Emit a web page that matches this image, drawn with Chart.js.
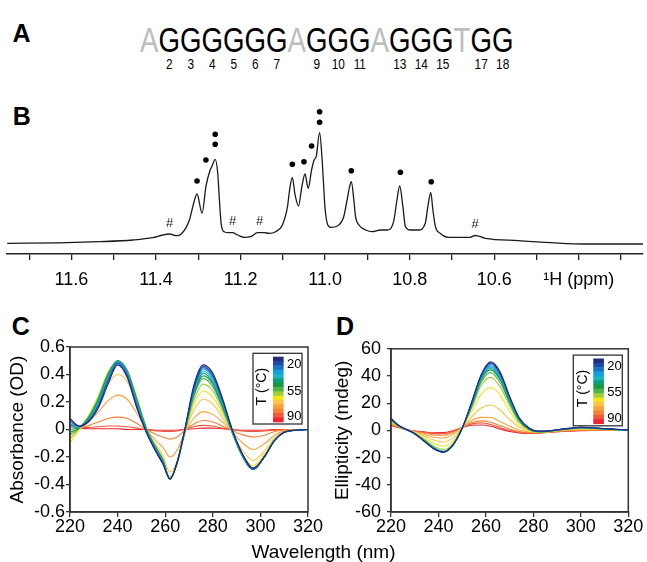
<!DOCTYPE html>
<html><head><meta charset="utf-8">
<script src="https://cdn.jsdelivr.net/npm/chart.js@4.4.1/dist/chart.umd.min.js"></script>
<style>
html,body{margin:0;padding:0;background:#fff;}
body{width:647px;height:562px;position:relative;overflow:hidden;font-family:"Liberation Sans",Arial,sans-serif;}
canvas{position:absolute;}
.lbl{position:absolute;font-weight:bold;font-size:25px;line-height:25px;color:#000;}
#seq{position:absolute;left:140px;top:22.4px;transform:scaleX(0.79);transform-origin:0 0;display:flex;white-space:nowrap;}
#seq .col{position:relative;font-size:35px;line-height:35px;}
#seq .num{position:absolute;left:-12px;right:-12px;top:34px;text-align:center;font-size:15px;line-height:15px;color:#000;}
#wl{position:absolute;left:0;width:647px;top:542px;text-align:center;font-size:19px;line-height:19px;}
</style></head>
<body>
<div class="lbl" style="left:12.5px;top:20.8px">A</div>
<div class="lbl" style="left:12.7px;top:103.8px">B</div>
<div class="lbl" style="left:11.7px;top:313.8px">C</div>
<div class="lbl" style="left:336px;top:313.8px">D</div>
<div id="seq"></div>
<canvas id="cB" width="647" height="205" style="left:0;top:95px"></canvas>
<canvas id="cC" width="330" height="210" style="left:0;top:332px"></canvas>
<canvas id="cD" width="327" height="210" style="left:320px;top:332px"></canvas>
<div id="wl">Wavelength (nm)</div>
<script>
// ---------- Panel A: sequence ----------
const seqLetters = ['A','G','G','G','G','G','G','A','G','G','G','A','G','G','G','T','G','G'];
const seqNumbers = ['','2','3','4','5','6','7','','9','10','11','','13','14','15','','17','18'];
const seqGray = ['A','T'];

// ---------- Panel B: 1H NMR ----------
const nmrPpm = [11.752, 11.612, 11.533, 11.455, 11.408, 11.384, 11.368, 11.352, 11.341, 11.321, 11.313, 11.303, 11.291, 11.282, 11.272, 11.268, 11.260, 11.254, 11.250, 11.246, 11.239, 11.227, 11.219, 11.207, 11.191, 11.176, 11.160, 11.144, 11.132, 11.117, 11.101, 11.089, 11.084, 11.0775, 11.071, 11.063, 11.055, 11.0475, 11.040, 11.032, 11.026, 11.021, 11.013, 11.007, 11.0004, 10.995, 10.987, 10.971, 10.956, 10.948, 10.942, 10.938, 10.932, 10.928, 10.920, 10.904, 10.889, 10.869, 10.853, 10.838, 10.830, 10.8235, 10.816, 10.810, 10.798, 10.779, 10.763, 10.757, 10.750, 10.745, 10.739, 10.728, 10.708, 10.677, 10.657, 10.645, 10.621, 10.543, 10.464, 10.386, 10.248];
const nmrIntensity = [0.7, 1.3, 2.3, 4, 6.3, 9, 10, 8.3, 9.7, 24, 37.3, 50, 30.7, 57.3, 74, 77.3, 84.7, 70.7, 44, 20.7, 12.3, 11.3, 11.3, 9, 6.7, 7.3, 11.3, 11.3, 10.7, 12.3, 19, 37.3, 54, 66.7, 49, 38, 57.3, 70, 55.7, 74, 84, 87.3, 111.3, 84, 37.3, 20.7, 16.7, 18, 27.3, 44, 57.3, 62.3, 44, 27.3, 19, 14, 12.3, 14, 14, 22.3, 44, 58, 37.3, 17.3, 14, 14, 20.7, 37.3, 51.3, 34, 17.3, 10.7, 6.7, 6.7, 6.7, 8.5, 5.7, 3.3, 1.3, 0, 0];
const dotPpm = [11.303, 11.282, 11.260, 11.260, 11.0775, 11.050, 11.032, 11.013, 11.013, 10.938, 10.822, 10.749];
const dotIntensity = [63, 84, 99.7, 109.7, 79.7, 82.3, 98, 121.7, 132.3, 73.3, 71.7, 62.3];
const hashPpm = [11.368, 11.219, 11.155, 10.645];
const hashIntensity = [20.7, 22.3, 22.3, 20];
const nmrTickValues = [11.7, 11.6, 11.5, 11.4, 11.3, 11.2, 11.1, 11.0, 10.9, 10.8, 10.7, 10.6, 10.5, 10.4, 10.3];
const nmrTickLabels = ['', '11.6', '', '11.4', '', '11.2', '', '11.0', '', '10.8', '', '10.6', '', '\u00b9H (ppm)', ''];

// ---------- Panels C & D ----------
const temperatures = [20, 25, 30, 35, 40, 45, 50, 55, 60, 65, 70, 75, 80, 85, 90];
const tempColors = ['#262a7a', '#1f49a8', '#1b74c8', '#14a0dc', '#1ab3c4', '#0c9e74', '#1a9a40', '#4cb548', '#a2cd3a', '#f2e51c', '#fcc44a', '#f9a23c', '#f68236', '#f0583c', '#ec2434'];
const colorbarLabels = ['20', '55', '90'];
const xTicksCD = [220, 240, 260, 280, 300, 320];
const xTickLabelsCD = ['220', '240', '260', '280', '300', '320'];
const yTicksC = [-0.6, -0.4, -0.2, 0, 0.2, 0.4, 0.6];
const yTickLabelsC = ['-0.6', '-0.4', '-0.2', '0', '0.2', '0.4', '0.6'];
const yTicksD = [-60, -40, -20, 0, 20, 40, 60];
const yTickLabelsD = ['-60', '-40', '-20', '0', '20', '40', '60'];

const wlC = [220, 224, 228, 232, 236, 240, 244, 248, 252, 256, 259, 262, 265, 268, 272, 276, 280, 284, 288, 292, 297, 302, 306, 310, 315, 320];
const absC20 = [0.08, 0.025, 0.06, 0.16, 0.33, 0.47, 0.38, 0.16, -0.02, -0.16, -0.25, -0.36, -0.24, -0.02, 0.32, 0.47, 0.41, 0.23, 0.01, -0.16, -0.28, -0.19, -0.08, -0.02, -0.005, 0];
const absC25 = [0.07, 0.024, 0.065, 0.17, 0.35, 0.48, 0.39, 0.17, -0.015, -0.155, -0.245, -0.36, -0.24, -0.02, 0.30, 0.46, 0.395, 0.22, 0.005, -0.165, -0.285, -0.19, -0.08, -0.02, -0.005, 0];
const absC30 = [0.055, 0.022, 0.07, 0.18, 0.36, 0.485, 0.40, 0.18, -0.01, -0.15, -0.24, -0.36, -0.24, -0.02, 0.29, 0.45, 0.385, 0.21, 0, -0.17, -0.29, -0.19, -0.08, -0.02, -0.005, 0];
const absC35 = [0.04, 0.02, 0.075, 0.19, 0.37, 0.49, 0.41, 0.19, -0.005, -0.145, -0.235, -0.36, -0.24, -0.025, 0.28, 0.44, 0.37, 0.20, -0.005, -0.17, -0.29, -0.19, -0.075, -0.02, -0.005, 0];
const absC40 = [0.02, 0.018, 0.08, 0.20, 0.38, 0.495, 0.415, 0.20, 0, -0.14, -0.23, -0.36, -0.24, -0.025, 0.27, 0.425, 0.355, 0.19, -0.01, -0.175, -0.29, -0.19, -0.075, -0.02, -0.005, 0];
const absC45 = [0, 0.016, 0.085, 0.21, 0.39, 0.50, 0.42, 0.21, 0.005, -0.135, -0.225, -0.36, -0.24, -0.03, 0.26, 0.41, 0.34, 0.18, -0.01, -0.175, -0.29, -0.19, -0.075, -0.02, -0.005, 0];
const absC50 = [-0.02, 0.014, 0.09, 0.22, 0.40, 0.50, 0.425, 0.22, 0.01, -0.13, -0.22, -0.36, -0.245, -0.03, 0.25, 0.39, 0.33, 0.17, -0.015, -0.18, -0.29, -0.19, -0.075, -0.02, -0.005, 0];
const absC55 = [-0.04, 0.012, 0.095, 0.23, 0.405, 0.50, 0.43, 0.225, 0.012, -0.13, -0.22, -0.355, -0.245, -0.035, 0.24, 0.37, 0.31, 0.16, -0.015, -0.18, -0.29, -0.19, -0.075, -0.02, -0.005, 0];
const absC60 = [-0.07, 0.01, 0.10, 0.24, 0.41, 0.50, 0.43, 0.23, 0.015, -0.125, -0.215, -0.35, -0.25, -0.04, 0.21, 0.33, 0.28, 0.14, -0.015, -0.175, -0.285, -0.185, -0.075, -0.02, -0.005, 0];
const absC65 = [-0.10, 0.005, 0.11, 0.25, 0.42, 0.49, 0.43, 0.24, 0.02, -0.12, -0.21, -0.345, -0.25, -0.045, 0.18, 0.28, 0.235, 0.12, -0.015, -0.165, -0.265, -0.17, -0.07, -0.02, -0.005, 0];
const absC70 = [-0.06, 0, 0.09, 0.20, 0.33, 0.40, 0.35, 0.19, 0.01, -0.11, -0.19, -0.31, -0.23, -0.04, 0.14, 0.22, 0.185, 0.09, -0.015, -0.14, -0.225, -0.15, -0.06, -0.015, -0.005, 0];
const absC75 = [-0.02, 0.005, 0.06, 0.13, 0.21, 0.25, 0.22, 0.12, 0.005, -0.08, -0.13, -0.20, -0.15, -0.03, 0.08, 0.13, 0.11, 0.055, -0.01, -0.09, -0.145, -0.10, -0.04, -0.01, 0, 0];
const absC80 = [0.02, 0.01, 0.03, 0.055, 0.08, 0.09, 0.08, 0.045, 0, -0.035, -0.055, -0.07, -0.055, -0.01, 0.04, 0.065, 0.055, 0.025, -0.005, -0.035, -0.055, -0.04, -0.015, -0.005, 0, 0];
const absC85 = [0.035, 0.015, 0.015, 0.02, 0.025, 0.025, 0.02, 0.01, 0, -0.01, -0.015, -0.015, -0.01, 0, 0.02, 0.03, 0.025, 0.01, 0, -0.01, -0.015, -0.01, -0.005, 0, 0, 0];
const absC90 = [0.03, 0.012, 0.005, 0.005, 0.005, 0.005, 0, 0, 0, -0.005, -0.005, -0.005, -0.005, 0, 0.005, 0.01, 0.01, 0.005, 0, -0.005, -0.005, -0.005, 0, 0, 0, 0];
const absC = [absC20, absC25, absC30, absC35, absC40, absC45, absC50, absC55, absC60, absC65, absC70, absC75, absC80, absC85, absC90];

const wlD = [220, 223, 226, 230, 234, 238, 242, 246, 250, 254, 258, 262, 266, 270, 274, 278, 282, 286, 290, 295, 300, 305, 310, 315, 320];
const cdD20 = [9, 4, 1, -2.5, -8, -13.5, -16, -11, 1.5, 21, 41, 50.4, 43, 25, 9.5, 2, -0.5, -0.5, 0.5, 1.5, 2.3, 2, 1.3, 0.8, 0.4];
const cdD25 = [8.8, 4, 1, -2.5, -8, -13.5, -16, -11, 1.5, 20.5, 40.5, 49.5, 42, 24.5, 9, 1.8, -0.6, -0.5, 0.5, 1.5, 2.3, 2, 1.3, 0.8, 0.4];
const cdD30 = [8.6, 3.9, 1, -2.5, -7.8, -13.3, -16, -11, 1.6, 20, 40, 48.5, 41, 24, 8.8, 1.6, -0.7, -0.6, 0.4, 1.4, 2.2, 1.9, 1.2, 0.7, 0.4];
const cdD35 = [8.4, 3.8, 1, -2.4, -7.7, -13.2, -15.8, -11, 1.7, 19.5, 39, 47.5, 40, 23.5, 8.5, 1.5, -0.8, -0.6, 0.4, 1.4, 2.2, 1.9, 1.2, 0.7, 0.4];
const cdD40 = [8.2, 3.7, 1, -2.4, -7.6, -13, -15.8, -11, 1.8, 19, 38.5, 46.5, 39, 23, 8.2, 1.4, -0.8, -0.7, 0.3, 1.3, 2.1, 1.8, 1.1, 0.7, 0.3];
const cdD45 = [8, 3.6, 1, -2.3, -7.5, -13, -15.7, -11, 1.9, 18.5, 38, 45.5, 38, 22, 8, 1.2, -0.9, -0.7, 0.3, 1.3, 2, 1.8, 1.1, 0.6, 0.3];
const cdD50 = [7.8, 3.5, 1, -2.3, -7.4, -12.8, -15.6, -11, 2, 18, 37, 44.5, 37, 21, 7.5, 1, -1, -0.8, 0.2, 1.2, 2, 1.7, 1, 0.6, 0.3];
const cdD55 = [7.5, 3.4, 1, -2.2, -7.2, -12.5, -15.4, -10.8, 2, 17.5, 35.5, 42.5, 35, 20, 7, 0.8, -1, -0.8, 0.2, 1.1, 1.9, 1.6, 1, 0.6, 0.3];
const cdD60 = [7.2, 3.3, 1, -2, -6.5, -11.5, -14, -10, 2.2, 16.5, 33, 39, 32, 18, 6, 0.5, -1.1, -0.9, 0.1, 1, 1.7, 1.5, 0.9, 0.5, 0.3];
const cdD65 = [6.8, 3.2, 1, -1.8, -5.5, -9.5, -11.6, -8, 2.3, 14, 26.5, 31.5, 26, 14, 4.5, 0, -1.2, -1, 0, 0.8, 1.4, 1.2, 0.8, 0.4, 0.2];
const cdD70 = [6, 3, 0.9, -1.4, -4.2, -7, -8.5, -5.5, 2.3, 10, 16.5, 18.7, 15, 8, 2.5, -0.5, -1.3, -1.1, -0.2, 0.5, 1, 0.9, 0.6, 0.3, 0.2];
const cdD75 = [5, 2.8, 0.8, -1, -3, -5, -5.6, -3, 2.3, 7.5, 9.6, 9.5, 6.5, 3, 0.3, -1.2, -1.5, -1.2, -0.5, 0.2, 0.5, 0.5, 0.4, 0.2, 0.1];
const cdD80 = [4.3, 2.5, 0.8, -0.7, -2, -3.3, -3.6, -1.5, 2.3, 5.8, 7, 6, 3.5, 1, -0.8, -1.7, -1.7, -1.3, -0.7, -0.1, 0.2, 0.3, 0.2, 0.1, 0.1];
const cdD85 = [3.8, 2.3, 0.7, -0.5, -1.5, -2.3, -2.4, -0.8, 2.2, 4.8, 5.5, 4.3, 2, 0, -1.4, -2, -1.8, -1.4, -0.9, -0.3, 0, 0.1, 0.1, 0, 0];
const cdD90 = [3.5, 2.2, 0.7, -0.4, -1.1, -1.7, -1.6, -0.2, 2.1, 3.8, 4, 3, 1, -0.8, -1.8, -2.2, -2, -1.5, -1, -0.5, -0.2, 0, 0, 0, 0];
const cdD = [cdD20, cdD25, cdD30, cdD35, cdD40, cdD45, cdD50, cdD55, cdD60, cdD65, cdD70, cdD75, cdD80, cdD85, cdD90];

// ---------- build panel A ----------
const seqEl = document.getElementById('seq');
seqLetters.forEach((L, i) => {
  const col = document.createElement('div');
  col.className = 'col';
  col.textContent = L;
  col.style.color = seqGray.includes(L) ? '#bdbdbd' : '#000';
  if (seqNumbers[i]) {
    const n = document.createElement('div');
    n.className = 'num';
    n.textContent = seqNumbers[i];
    col.appendChild(n);
  }
  seqEl.appendChild(col);
});

// ---------- charts ----------
const FONT = '"Liberation Sans", Arial, sans-serif';
Chart.defaults.font.family = FONT;
Chart.defaults.color = '#000';

const hashPlugin = {
  id: 'hash',
  afterDatasetsDraw(chart) {
    const {ctx, scales: {x, y}} = chart;
    ctx.save();
    ctx.font = '13px ' + FONT;
    ctx.fillStyle = '#222';
    ctx.textAlign = 'center';
    ctx.textBaseline = 'middle';
    hashPpm.forEach((p, i) => ctx.fillText('#', x.getPixelForValue(p), y.getPixelForValue(hashIntensity[i])));
    ctx.restore();
  }
};

const framePlugin = {
  id: 'frame',
  afterDraw(chart) {
    const {ctx, chartArea: a} = chart;
    ctx.save();
    ctx.strokeStyle = '#333';
    ctx.lineWidth = 1.5;
    ctx.strokeRect(a.left, a.top, a.right - a.left, a.bottom - a.top);
    ctx.restore();
  }
};

const colorbarPlugin = {
  id: 'cbar',
  afterDatasetsDraw(chart) {
    const {ctx, chartArea: a} = chart;
    const bx = a.right - 55, by = a.top + 6.3, bw = 49, bh = 70.7;
    ctx.save();
    ctx.fillStyle = '#fff';
    ctx.fillRect(bx, by, bw, bh);
    ctx.strokeStyle = '#333';
    ctx.lineWidth = 1.3;
    ctx.strokeRect(bx, by, bw, bh);
    const cx = bx + 20, cy = by + 3.4, cw = 10.6, ch = 65, n = tempColors.length;
    tempColors.forEach((c, i) => {
      ctx.fillStyle = c;
      ctx.fillRect(cx, cy + ch * i / n, cw, ch / n + 0.6);
    });
    ctx.fillStyle = '#000';
    ctx.font = '13px ' + FONT;
    ctx.textAlign = 'left';
    ctx.textBaseline = 'middle';
    const ly = [11, 37.8, 63.3];
    colorbarLabels.forEach((t, i) => ctx.fillText(t, bx + 34, by + ly[i]));
    ctx.translate(bx + 9.6, by + 33.4);
    ctx.rotate(-Math.PI / 2);
    ctx.textAlign = 'center';
    ctx.font = '14px ' + FONT;
    ctx.fillText('T (\u00b0C)', 0, 0);
    ctx.restore();
  }
};

new Chart(document.getElementById('cB'), {
  type: 'scatter',
  data: {
    datasets: [
      {data: nmrPpm.map((x, i) => ({x, y: nmrIntensity[i]})), showLine: true, borderColor: '#1a1a1a', borderWidth: 1.3, pointRadius: 0, cubicInterpolationMode: 'monotone', fill: false},
      {data: dotPpm.map((x, i) => ({x, y: dotIntensity[i]})), showLine: false, pointRadius: 2.8, pointBackgroundColor: '#000', pointBorderWidth: 0}
    ]
  },
  options: {
    responsive: false, animation: false, devicePixelRatio: 1,
    layout: {padding: {left: 7, right: 2, top: 9, bottom: 0}},
    plugins: {legend: {display: false}, tooltip: {enabled: false}},
    scales: {
      x: {
        type: 'linear', reverse: true, min: 10.248, max: 11.7525,
        afterBuildTicks: s => { s.ticks = nmrTickValues.map(v => ({value: v})); },
        afterFit: s => { s.height = 46; },
        grid: {drawOnChartArea: false, drawTicks: true, tickLength: 6, color: '#222', lineWidth: 1.3},
        border: {display: true, color: '#222', width: 1.5},
        ticks: {autoSkip: false, maxRotation: 0, padding: 9, color: '#000', font: {size: 18}, callback: (v, i) => nmrTickLabels[i]}
      },
      y: {display: false, min: -10, max: 140}
    }
  },
  plugins: [hashPlugin]
});

function makeCD(id, wl, series, yMin, yMax, yTicks, yLabels, title, yWidth, padRight, titlePad, tickPad) {
  new Chart(document.getElementById(id), {
    type: 'scatter',
    data: {
      datasets: series.map((arr, k) => ({
        label: temperatures[k] + ' \u00b0C',
        data: wl.map((x, i) => ({x, y: arr[i]})),
        showLine: true, borderColor: tempColors[k], borderWidth: 1.1, pointRadius: 0,
        cubicInterpolationMode: 'monotone', fill: false
      }))
    },
    options: {
      responsive: false, animation: false, devicePixelRatio: 1,
      layout: {padding: {left: 0, right: padRight, top: 15, bottom: 0}},
      plugins: {legend: {display: false}, tooltip: {enabled: false}},
      scales: {
        x: {
          type: 'linear', min: 220, max: 320,
          afterBuildTicks: s => { s.ticks = xTicksCD.map(v => ({value: v})); },
          afterFit: s => { s.height = 30; },
          grid: {drawOnChartArea: false, drawTicks: true, tickLength: 5, color: '#333', lineWidth: 1.3},
          border: {display: true, color: '#333', width: 1.5},
          ticks: {autoSkip: false, maxRotation: 0, padding: -1, color: '#000', font: {size: 18}, callback: (v, i) => xTickLabelsCD[i]}
        },
        y: {
          type: 'linear', min: yMin, max: yMax,
          afterBuildTicks: s => { s.ticks = yTicks.map(v => ({value: v})); },
          afterFit: s => { s.width = yWidth; },
          grid: {drawOnChartArea: false, drawTicks: true, tickLength: 4, color: '#333', lineWidth: 1.3},
          border: {display: true, color: '#333', width: 1.5},
          ticks: {autoSkip: false, padding: tickPad, color: '#000', font: {size: 18}, callback: (v, i) => yLabels[i]},
          title: {display: true, text: title, color: '#000', font: {size: 19}, padding: {top: titlePad, bottom: 0}}
        }
      }
    },
    plugins: [framePlugin, colorbarPlugin]
  });
}

makeCD('cC', wlC, absC, -0.6, 0.6, yTicksC, yTickLabelsC, 'Absorbance (OD)', 70, 22, 6, 1);
makeCD('cD', wlD, cdD, -60, 60, yTicksD, yTickLabelsD, 'Ellipticity (mdeg)', 71, 18.7, 11, 6);
</script>
</body></html>
